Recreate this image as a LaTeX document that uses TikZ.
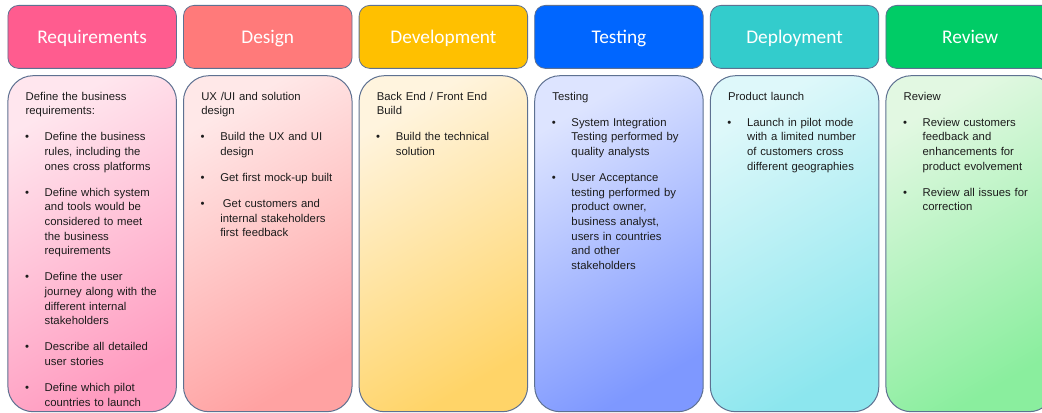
\documentclass[tikz,border=0pt]{standalone}
\usepackage{fontspec}
\setmainfont{Liberation Sans}
\newfontfamily\headfont{Carlito}
\usetikzlibrary{positioning}

\definecolor{edge}{HTML}{5E7191}
\definecolor{ink}{HTML}{1C1C1C}
\definecolor{reqhead}{HTML}{FF5C8F}
\definecolor{deshead}{HTML}{FF7A7A}
\definecolor{devhead}{HTML}{FFC000}
\definecolor{tsthead}{HTML}{0066FF}
\definecolor{dephead}{HTML}{33CCCC}
\definecolor{revhead}{HTML}{00CC66}
\definecolor{reqtop}{HTML}{FFE6EE}
\definecolor{reqbot}{HTML}{FF9CC0}
\definecolor{destop}{HTML}{FFE8E8}
\definecolor{desbot}{HTML}{FFA2A2}
\definecolor{devtop}{HTML}{FFF4DE}
\definecolor{devbot}{HTML}{FFD468}
\definecolor{tsttop}{HTML}{DDE4FF}
\definecolor{tstbot}{HTML}{7E98FF}
\definecolor{deptop}{HTML}{DEF8FA}
\definecolor{depbot}{HTML}{8CE6EE}
\definecolor{revtop}{HTML}{E2F8E2}
\definecolor{revbot}{HTML}{8AEE9E}

% one bullet point, hanging under its own text
\newcommand{\bul}[1]{\par\vspace{8.5pt}\hangindent=14.25pt\hangafter=1\noindent
  \makebox[14.25pt][l]{\hspace{-0.5pt}\textbullet}#1\par}

\begin{document}
\begin{tikzpicture}[x=0.75pt,y=-0.75pt,
  head/.style={draw=edge,line width=0.6pt,rounded corners=8pt,
    minimum width=126.4pt,minimum height=47.25pt,inner sep=0pt,
    text height=9.3pt,text depth=0pt,
    text=white,font=\headfont\fontsize{14.5pt}{16pt}\selectfont},
  card/.style={draw=edge,line width=0.75pt,rounded corners=19pt,
    minimum width=126.4pt,minimum height=252pt,inner sep=0pt},
  cardfill/.style 2 args={top color=#1,bottom color=#2,shading angle=30},
  cardtext/.style={anchor=north west,inner sep=0pt,text width=110pt,
    align=left,text=ink,font=\fontsize{8.5pt}{11pt}\selectfont,
    execute at begin node=\setlength{\parindent}{0pt}}]

\fill[white] (0,0) rectangle (1042,413);
\path[use as bounding box,clip] (0,0) rectangle (1042,413);

% phase headers
\node[head,fill=reqhead,anchor=north west] (req) at (7.5,5) {Requirements};
\node[head,fill=deshead,right=4.7pt of req] (des) {Design};
\node[head,fill=devhead,right=4.7pt of des] (dev) {Development};
\node[head,fill=tsthead,right=4.7pt of dev] (tst) {Testing};
\node[head,fill=dephead,right=4.7pt of tst] (dep) {Deployment};
\node[head,fill=revhead,right=4.7pt of dep] (rev) {Review};

% cards under each header
\node[card,cardfill={reqtop}{reqbot},below=4.8pt of req] (reqc) {};
\node[card,cardfill={destop}{desbot},below=4.8pt of des] (desc) {};
\node[card,cardfill={devtop}{devbot},below=4.8pt of dev] (devc) {};
\node[card,cardfill={tsttop}{tstbot},below=4.8pt of tst] (tstc) {};
\node[card,cardfill={deptop}{depbot},below=4.8pt of dep] (depc) {};
\node[card,cardfill={revtop}{revbot},below=4.8pt of rev] (revc) {};

\node[cardtext,below right=12.3pt and 13.5pt of reqc.north west] (reqtxt) {%
  Define the business\newline requirements:
  \bul{Define the business\newline rules, including the\newline ones cross platforms}
  \bul{Define which system\newline and tools would be\newline considered to meet\newline the business\newline requirements}
  \bul{Define the user\newline journey along with the\newline different internal\newline stakeholders}
  \bul{Describe all detailed\newline user stories}
  \bul{Define which pilot\newline countries to launch}};

\node[cardtext,below right=12.3pt and 13.5pt of desc.north west] (destxt) {%
  UX /UI and solution\newline design
  \bul{Build the UX and UI\newline design}
  \bul{Get first mock-up built}
  \bul{\hspace{2pt}Get customers and\newline internal stakeholders\newline first feedback}};

\node[cardtext,below right=12.3pt and 13.5pt of devc.north west] (devtxt) {%
  Back End / Front End\newline Build
  \bul{Build the technical\newline solution}};

\node[cardtext,below right=12.3pt and 13.5pt of tstc.north west] (tsttxt) {%
  Testing
  \bul{System Integration\newline Testing performed by\newline quality analysts}
  \bul{User Acceptance\newline testing performed by\newline product owner,\newline business analyst,\newline users in countries\newline and other\newline stakeholders}};

\node[cardtext,below right=12.3pt and 13.5pt of depc.north west] (deptxt) {%
  Product launch
  \bul{Launch in pilot mode\newline with a limited number\newline of customers cross\newline different geographies}};

\node[cardtext,below right=12.3pt and 13.5pt of revc.north west] (revtxt) {%
  Review
  \bul{Review customers\newline feedback and\newline enhancements for\newline product evolvement}
  \bul{Review all issues for\newline correction}};
\end{tikzpicture}
\end{document}
